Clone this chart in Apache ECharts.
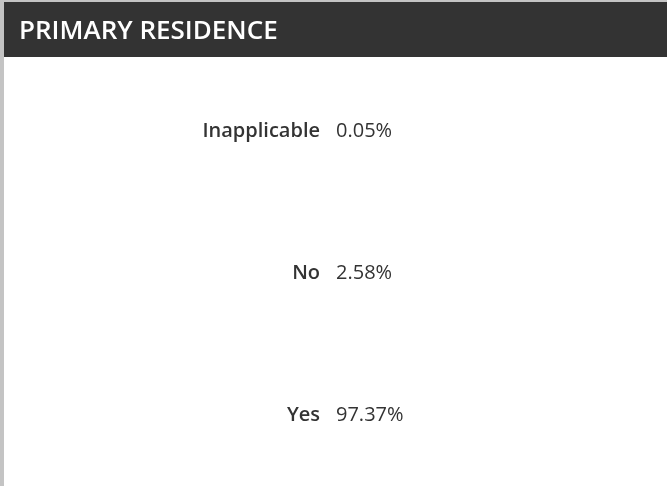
<!DOCTYPE html>
<html>
<head>
<meta charset="UTF-8">
<title>primary residence</title>
<script src="https://cdn.jsdelivr.net/npm/echarts@6/dist/echarts.min.js"></script>
<style>
  html, body { margin: 0; padding: 0; background: #fff; }
  #chart { width: 667px; height: 486px; }
</style>
</head>
<body>
<div id="chart"></div>
<script type="text/javascript">
  var chartTitle = 'PRIMARY RESIDENCE';
  var categories = ['Inapplicable', 'No', 'Yes'];
  var shares = [0.05, 2.58, 97.37];

  var myChart = echarts.init(document.getElementById('chart'));

  var option = {
    animation: false,
    backgroundColor: '#fff',
    graphic: [
      // grey frame on the left and top
      { type: 'rect', left: 0, top: 0, shape: { width: 4, height: 486 }, style: { fill: '#c4c4c4' } },
      { type: 'rect', left: 0, top: 0, shape: { width: 667, height: 2 }, style: { fill: '#c4c4c4' } },
      // dark header strip
      { type: 'rect', left: 4, top: 2, shape: { width: 663, height: 55 }, style: { fill: '#333333' } },
      {
        type: 'text', x: 19, y: 32,
        style: { text: chartTitle, fill: '#fff', font: '600 26px "Open Sans"', verticalAlign: 'middle' }
      }
    ],
    grid: { left: 327, right: 20, top: 60, bottom: 0 },
    xAxis: {
      type: 'value',
      min: 0,
      max: 100,
      show: false
    },
    yAxis: {
      type: 'category',
      data: categories,
      inverse: true,
      axisLine: { show: false },
      axisTick: { show: false },
      splitLine: { show: false },
      axisLabel: {
        margin: 7,
        color: '#333',
        fontFamily: 'Open Sans',
        fontWeight: 600,
        fontSize: 20
      }
    },
    series: [{
      type: 'bar',
      data: shares,
      barWidth: 20,
      itemStyle: { color: 'rgba(0,0,0,0)' },
      label: {
        show: true,
        position: 'insideLeft',
        distance: 9,
        color: '#333',
        fontFamily: 'Open Sans',
        fontSize: 20,
        formatter: function (p) { return p.value.toFixed(2) + '%'; }
      }
    }]
  };

  myChart.setOption(option);
</script>
</body>
</html>
